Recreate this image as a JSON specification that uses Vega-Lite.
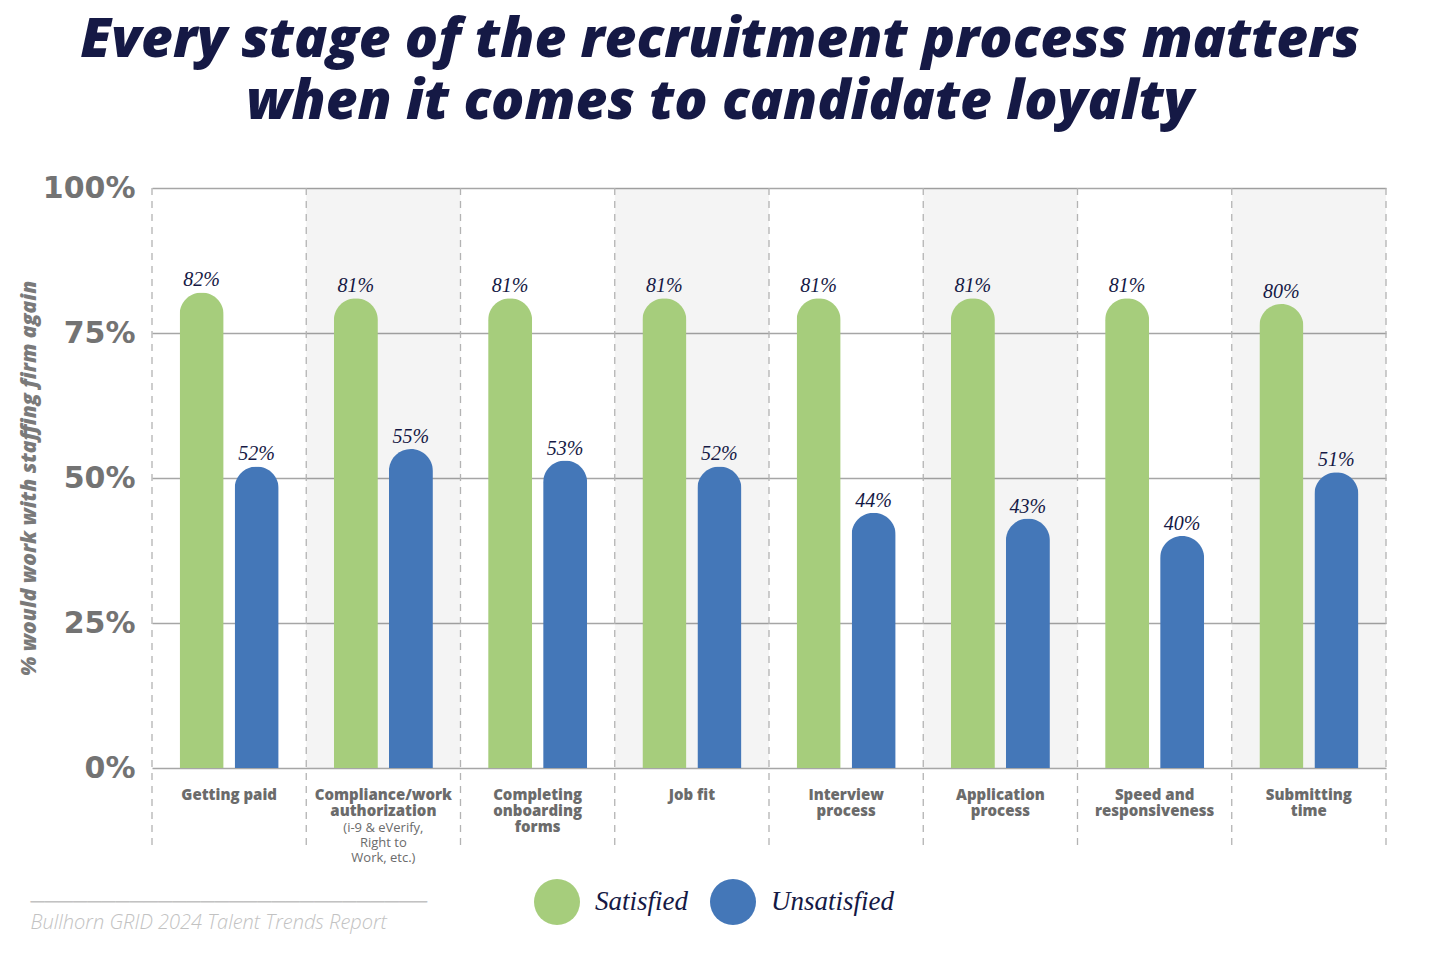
{
  "$schema": "https://vega.github.io/schema/vega-lite/v6.json",
  "width": 1234,
  "height": 580,
  "autosize": {"type": "none"},
  "padding": {"left": 152, "top": 188, "right": 54, "bottom": 188},
  "background": "white",
  "title": {
    "text": ["Every stage of the recruitment process matters", "when it comes to candidate loyalty"],
    "font": "Open Sans",
    "fontSize": 55,
    "fontWeight": 800,
    "fontStyle": "italic",
    "color": "#151945",
    "lineHeight": 62,
    "anchor": "middle",
    "dx": -49,
    "offset": 42
  },
  "datasets": {
    "cats": [
      {"idx": 0, "cat": "Getting paid"},
      {"idx": 1, "cat": "Compliance/work|authorization"},
      {"idx": 2, "cat": "Completing|onboarding|forms"},
      {"idx": 3, "cat": "Job fit"},
      {"idx": 4, "cat": "Interview|process"},
      {"idx": 5, "cat": "Application|process"},
      {"idx": 6, "cat": "Speed and|responsiveness"},
      {"idx": 7, "cat": "Submitting|time"}
    ],
    "bars": [
      {"cat": "Getting paid", "group": "Satisfied", "value": 0.82},
      {"cat": "Getting paid", "group": "Unsatisfied", "value": 0.52},
      {"cat": "Compliance/work|authorization", "group": "Satisfied", "value": 0.81},
      {"cat": "Compliance/work|authorization", "group": "Unsatisfied", "value": 0.55},
      {"cat": "Completing|onboarding|forms", "group": "Satisfied", "value": 0.81},
      {"cat": "Completing|onboarding|forms", "group": "Unsatisfied", "value": 0.53},
      {"cat": "Job fit", "group": "Satisfied", "value": 0.81},
      {"cat": "Job fit", "group": "Unsatisfied", "value": 0.52},
      {"cat": "Interview|process", "group": "Satisfied", "value": 0.81},
      {"cat": "Interview|process", "group": "Unsatisfied", "value": 0.44},
      {"cat": "Application|process", "group": "Satisfied", "value": 0.81},
      {"cat": "Application|process", "group": "Unsatisfied", "value": 0.43},
      {"cat": "Speed and|responsiveness", "group": "Satisfied", "value": 0.81},
      {"cat": "Speed and|responsiveness", "group": "Unsatisfied", "value": 0.40},
      {"cat": "Submitting|time", "group": "Satisfied", "value": 0.80},
      {"cat": "Submitting|time", "group": "Unsatisfied", "value": 0.51}
    ]
  },
  "layer": [
    {
      "data": {"name": "cats"},
      "transform": [{"filter": "datum.idx % 2 == 1"}],
      "mark": {"type": "rect", "color": "#000000", "opacity": 0.045},
      "encoding": {
        "x": {
          "field": "cat", "type": "nominal", "sort": null,
          "scale": {"domain": ["Getting paid", "Compliance/work|authorization", "Completing|onboarding|forms", "Job fit", "Interview|process", "Application|process", "Speed and|responsiveness", "Submitting|time"], "paddingInner": 0, "paddingOuter": 0},
          "axis": {
            "title": ["────────────────────────────", "Bullhorn GRID 2024 Talent Trends Report"],
            "titleFont": "Open Sans",
            "titleFontStyle": "italic",
            "titleFontWeight": 300,
            "titleFontSize": 20,
            "titleColor": "#c2c2c2",
            "titleLineHeight": 21,
            "titleAnchor": "start",
            "titleAlign": "left",
            "titleBaseline": "alphabetic",
            "titleX": -122,
            "titleY": 139,
            "labelExpr": "split(datum.value, '|')",
            "labelFont": "Open Sans",
            "labelFontWeight": 800,
            "labelFontSize": 15,
            "labelColor": "#6b6b6b",
            "labelLineHeight": 16,
            "labelBaseline": "top",
            "labelPadding": 19,
            "labelAngle": 0,
            "labelLimit": 0,
            "ticks": false,
            "domain": false,
            "grid": false
          }
        },
        "y": {
          "datum": 1, "type": "quantitative",
          "scale": {"domain": [0, 1]},
          "axis": {
            "title": "% would work with staffing firm again",
            "titleFont": "Open Sans",
            "titleFontWeight": 800,
            "titleFontStyle": "italic",
            "titleFontSize": 21,
            "titleColor": "#7a7a7a",
            "titlePadding": 3,
            "values": [0, 0.25, 0.5, 0.75, 1],
            "format": ".0%",
            "labelFont": "DejaVu Sans",
            "labelFontWeight": "bold",
            "labelFontSize": 30,
            "labelColor": "#737373",
            "labelPadding": 17,
            "ticks": false,
            "domain": false,
            "grid": true,
            "gridColor": "#a6a6a6",
            "gridWidth": 1.6
          }
        },
        "y2": {"datum": 0}
      }
    },
    {
      "data": {"name": "cats"},
      "mark": {"type": "rule", "color": "#b3b3b3", "strokeWidth": 1.3, "strokeDash": [7, 6], "y2Offset": 82},
      "encoding": {
        "x": {"field": "cat", "type": "nominal", "bandPosition": 0, "sort": null, "scale": {"domain": ["Getting paid", "Compliance/work|authorization", "Completing|onboarding|forms", "Job fit", "Interview|process", "Application|process", "Speed and|responsiveness", "Submitting|time"], "paddingInner": 0, "paddingOuter": 0}},
        "y": {"datum": 1, "type": "quantitative"},
        "y2": {"datum": 0}
      }
    },
    {
      "data": {"name": "cats"},
      "transform": [{"filter": "datum.idx == 7"}],
      "mark": {"type": "rule", "color": "#b3b3b3", "strokeWidth": 1.3, "strokeDash": [7, 6], "y2Offset": 82},
      "encoding": {
        "x": {"field": "cat", "type": "nominal", "bandPosition": 1, "sort": null, "scale": {"domain": ["Getting paid", "Compliance/work|authorization", "Completing|onboarding|forms", "Job fit", "Interview|process", "Application|process", "Speed and|responsiveness", "Submitting|time"], "paddingInner": 0, "paddingOuter": 0}},
        "y": {"datum": 1, "type": "quantitative"},
        "y2": {"datum": 0}
      }
    },
    {
      "data": {"name": "bars"},
      "mark": {"type": "bar", "cornerRadiusTopLeft": 22, "cornerRadiusTopRight": 22},
      "encoding": {
        "x": {"field": "cat", "type": "nominal", "sort": null, "scale": {"domain": ["Getting paid", "Compliance/work|authorization", "Completing|onboarding|forms", "Job fit", "Interview|process", "Application|process", "Speed and|responsiveness", "Submitting|time"], "paddingInner": 0, "paddingOuter": 0}},
        "xOffset": {"field": "group", "type": "nominal", "scale": {"domain": ["Satisfied", "Unsatisfied"], "paddingInner": 0.2, "paddingOuter": 0.502}},
        "y": {"field": "value", "type": "quantitative"},
        "color": {
          "field": "group", "type": "nominal",
          "scale": {"domain": ["Satisfied", "Unsatisfied"], "range": ["#a6cd7c", "#4477b8"]},
          "legend": {
            "title": null,
            "orient": "none",
            "legendX": 382,
            "legendY": 691,
            "direction": "horizontal",
            "symbolType": "circle",
            "symbolSize": 2116,
            "symbolStrokeWidth": 0,
            "symbolOpacity": 1,
            "labelFont": "Liberation Serif",
            "labelFontStyle": "italic",
            "labelFontSize": 27,
            "labelColor": "#151945",
            "labelOffset": 15,
            "columnPadding": 22,
            "padding": 0,
            "labelLimit": 0
          }
        }
      }
    },
    {
      "data": {"name": "bars"},
      "mark": {"type": "text", "font": "Liberation Serif", "fontStyle": "italic", "fontSize": 20, "color": "#151945", "baseline": "alphabetic", "dy": -6},
      "encoding": {
        "x": {"field": "cat", "type": "nominal", "sort": null, "scale": {"domain": ["Getting paid", "Compliance/work|authorization", "Completing|onboarding|forms", "Job fit", "Interview|process", "Application|process", "Speed and|responsiveness", "Submitting|time"], "paddingInner": 0, "paddingOuter": 0}},
        "xOffset": {"field": "group", "type": "nominal", "scale": {"domain": ["Satisfied", "Unsatisfied"], "paddingInner": 0.2, "paddingOuter": 0.502}},
        "y": {"field": "value", "type": "quantitative"},
        "text": {"field": "value", "type": "quantitative", "format": ".0%"}
      }
    },
    {
      "data": {"name": "cats"},
      "transform": [{"filter": "datum.idx == 1"}],
      "mark": {"type": "text", "font": "Open Sans", "fontSize": 13, "fontWeight": 500, "color": "#6b6b6b", "baseline": "top", "lineHeight": 15, "dy": 54, "text": ["(i-9 & eVerify,", "Right to", "Work, etc.)"]},
      "encoding": {
        "x": {"field": "cat", "type": "nominal", "sort": null, "scale": {"domain": ["Getting paid", "Compliance/work|authorization", "Completing|onboarding|forms", "Job fit", "Interview|process", "Application|process", "Speed and|responsiveness", "Submitting|time"], "paddingInner": 0, "paddingOuter": 0}},
        "y": {"datum": 0, "type": "quantitative"}
      }
    }
  ],
  "config": {"view": {"stroke": null}}
}
